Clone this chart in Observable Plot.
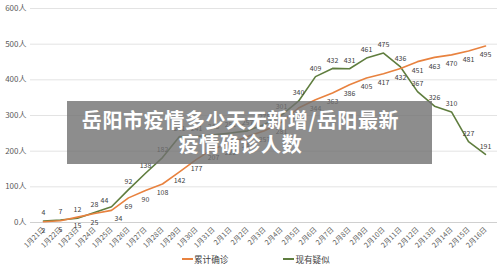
<!DOCTYPE html>
<html>
<head>
<meta charset="utf-8">
<script src="https://cdn.jsdelivr.net/npm/d3@7"></script>
<script src="https://cdn.jsdelivr.net/npm/@observablehq/plot@0.6"></script>
<style>
  html, body { margin: 0; padding: 0; background: #fff; }
  body { width: 500px; height: 268px; position: relative; overflow: hidden;
         font-family: "Noto Sans CJK SC", "Noto Sans", sans-serif; }
  #chart { position: absolute; left: 0; top: 0; }
  .legend { position: absolute; top: 251px; left: 182px; height: 16px; display: flex;
            align-items: center; font-size: 8.6px; color: #404040; }
  .legend .item { display: flex; align-items: center; margin-right: 55px; }
  .legend .sw { width: 11px; height: 2px; margin-right: 1px; }
  .banner { position: absolute; left: 67px; top: 101px; width: 365px; height: 63px;
            background: rgba(112,112,112,0.8); color: #fff; font-weight: 700;
            font-size: 20px; line-height: 24px; text-align: center;
            box-sizing: border-box; padding: 7px 18px 0 0; letter-spacing: 0.6px; }
</style>
</head>
<body>
<div id="chart"></div>
<div class="legend">
  <div class="item"><div class="sw" style="background:#e8823f"></div>累计确诊</div>
  <div class="item"><div class="sw" style="background:#5f7d3e"></div>现有疑似</div>
</div>
<div class="banner">岳阳市疫情多少天无新增/岳阳最新<br>疫情确诊人数</div>
<script>
// Daily dates, 21 Jan – 16 Feb
const dates = [
  "1月21日","1月22日","1月23日","1月24日","1月25日","1月26日","1月27日","1月28日",
  "1月29日","1月30日","1月31日","2月1日","2月2日","2月3日","2月4日","2月5日",
  "2月6日","2月7日","2月8日","2月9日","2月10日","2月11日","2月12日","2月13日",
  "2月14日","2月15日","2月16日"
];
// 累计确诊 (cumulative confirmed)
const confirmed = [2, 5, 15, 25, 34, 69, 90, 108, 142, 177, 207, 222, 241, 257, 281, 321,
  344, 363, 386, 405, 417, 432, 451, 463, 470, 481, 495];
// 现有疑似 (current suspected)
const suspected = [4, 7, 12, 28, 44, 92, 138, 182, 241, 241, 246, 251, 257, 275, 301, 340,
  409, 432, 431, 461, 475, 436, 367, 326, 310, 227, 191];
const yTicks = [0, 100, 200, 300, 400, 500, 600];

const ORANGE = "#e8823f";
const GREEN = "#5f7d3e";

const rows = dates.map((d, i) => ({date: d, confirmed: confirmed[i], suspected: suspected[i]}));
// where the two lines cross near the start, labels are nudged apart sideways
const crossDay = "1月25日";
const rest = rows.filter(r => r.date !== crossDay);
const cross = rows.filter(r => r.date === crossDay);

const label = {fontSize: 7, fill: "#404040"};

const chart = Plot.plot({
  width: 500,
  height: 252,
  marginTop: 8,
  marginBottom: 30,
  marginLeft: 30,
  marginRight: 3,
  style: {fontFamily: "'Noto Sans CJK SC', 'Noto Sans', sans-serif", color: "#595959", background: "transparent"},
  x: {type: "point", domain: dates, padding: 0.5, label: null},
  y: {domain: [0, 600], label: null},
  marks: [
    Plot.gridY(yTicks, {stroke: "#e3e3e3", strokeOpacity: 1}),
    Plot.ruleY([0], {stroke: "#d0d0d0"}),
    Plot.axisY(yTicks, {tickSize: 0, tickPadding: 4, fontSize: 8, tickFormat: d => d + "人", fill: "#595959"}),
    Plot.axisX({tickRotate: -45, tickSize: 0, tickPadding: 6, fontSize: 7, fill: "#595959"}),
    Plot.lineY(rows, {x: "date", y: "suspected", stroke: GREEN, strokeWidth: 1.6}),
    Plot.lineY(rows, {x: "date", y: "confirmed", stroke: ORANGE, strokeWidth: 1.6}),
    Plot.text(rest, {x: "date", y: "suspected", text: "suspected", dy: -8, ...label}),
    Plot.text(rest, {x: "date", y: "confirmed", text: "confirmed", dy: 9, ...label}),
    Plot.text(cross, {x: "date", y: "suspected", text: "suspected", dy: -6, dx: -7, ...label}),
    Plot.text(cross, {x: "date", y: "confirmed", text: "confirmed", dy: 8, dx: 7, ...label})
  ]
});
document.getElementById("chart").appendChild(chart);
</script>
</body>
</html>
